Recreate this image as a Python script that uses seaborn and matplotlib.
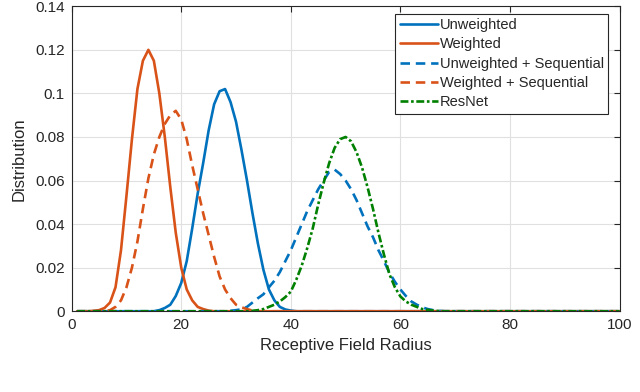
import matplotlib
matplotlib.use("Agg")
import matplotlib.pyplot as plt
import seaborn as sns
import numpy as np
import pandas as pd

# ---- data ----
x_radius = list(range(1, 101))

unweighted_start = 15
unweighted = [0.0, 0.0005, 0.0015, 0.003, 0.007, 0.013, 0.023, 0.038, 0.054, 0.068,
              0.083, 0.095, 0.101, 0.102, 0.096, 0.087, 0.074, 0.060, 0.045, 0.031,
              0.019, 0.010, 0.005, 0.002, 0.0008, 0.0003]

weighted_start = 4
weighted = [0.0002, 0.0005, 0.0015, 0.004, 0.011, 0.028, 0.053, 0.079, 0.102, 0.115,
            0.120, 0.115, 0.100, 0.080, 0.057, 0.036, 0.020, 0.010, 0.005, 0.002,
            0.001, 0.0003]

unweighted_seq_start = 29
unweighted_seq = [0.0002, 0.0005, 0.0009, 0.002, 0.004, 0.006, 0.0078, 0.011, 0.014, 0.018,
                  0.023, 0.028, 0.034, 0.040, 0.046, 0.051, 0.056, 0.060, 0.064, 0.065,
                  0.063, 0.060, 0.056, 0.051, 0.045, 0.039, 0.034, 0.028, 0.023, 0.0177,
                  0.0135, 0.010, 0.007, 0.0045, 0.003, 0.0018, 0.001, 0.0005, 0.0002]

weighted_seq_start = 7
weighted_seq = [0.0005, 0.002, 0.005, 0.011, 0.020, 0.032, 0.047, 0.061, 0.072, 0.080,
                0.086, 0.090, 0.092, 0.088, 0.079, 0.067, 0.056, 0.045, 0.035, 0.025,
                0.016, 0.010, 0.006, 0.003, 0.0018, 0.001, 0.0003]

resnet_start = 33
resnet = [0.0002, 0.0005, 0.001, 0.002, 0.003, 0.0045, 0.0065, 0.009, 0.0145, 0.021,
          0.029, 0.038, 0.049, 0.059, 0.068, 0.075, 0.079, 0.080, 0.078, 0.073,
          0.066, 0.057, 0.047, 0.036, 0.026, 0.017, 0.011, 0.0068, 0.0045, 0.003,
          0.002, 0.001, 0.0006, 0.0003, 0.0001]

series_names = ["Unweighted", "Weighted", "Unweighted + Sequential",
                "Weighted + Sequential", "ResNet"]
x_ticks = [0, 20, 40, 60, 80, 100]
y_ticks = [0, 0.02, 0.04, 0.06, 0.08, 0.1, 0.12, 0.14]
y_tick_labels = ["0", "0.02", "0.04", "0.06", "0.08", "0.1", "0.12", "0.14"]


def full_series(start, vals):
    arr = np.zeros(len(x_radius))
    i0 = x_radius.index(start)
    arr[i0:i0 + len(vals)] = vals
    return arr


raw = {
    "Unweighted": (unweighted_start, unweighted),
    "Weighted": (weighted_start, weighted),
    "Unweighted + Sequential": (unweighted_seq_start, unweighted_seq),
    "Weighted + Sequential": (weighted_seq_start, weighted_seq),
    "ResNet": (resnet_start, resnet),
}
frames = []
for name in series_names:
    s, v = raw[name]
    frames.append(pd.DataFrame({"x": x_radius, "y": full_series(s, v), "series": name}))
df = pd.concat(frames, ignore_index=True)

styles = {
    "Unweighted": dict(color="#0072BD", linestyle="-"),
    "Weighted": dict(color="#D95319", linestyle="-"),
    "Unweighted + Sequential": dict(color="#0072BD", linestyle=(0, (3.6, 2.2))),
    "Weighted + Sequential": dict(color="#D95319", linestyle=(0, (3.6, 2.2))),
    "ResNet": dict(color="#008000", linestyle=(0, (3.0, 1.0, 1.0, 1.0))),
}

sns.set_style("white")
plt.rcParams["font.family"] = ["Liberation Sans", "DejaVu Sans"]

fig = plt.figure(figsize=(6.4, 3.92), dpi=100)
ax = fig.add_axes([0.112, 0.206, 0.856, 0.778])

for name in series_names:
    sub = df[df["series"] == name]
    sns.lineplot(data=sub, x="x", y="y", ax=ax, label=name, linewidth=1.9,
                 **styles[name])

ax.set_xlim(0, 100)
ax.set_ylim(0, 0.14)
ax.set_xticks(x_ticks)
ax.set_yticks(y_ticks)
ax.set_yticklabels(y_tick_labels)
ax.grid(True, color="#e0e0e0", linewidth=0.8)
ax.set_axisbelow(True)
for sp in ax.spines.values():
    sp.set_color("#262626")
    sp.set_linewidth(0.8)
ax.tick_params(direction="in", length=4, width=0.8, colors="#262626",
               labelsize=11, top=True, right=True, pad=5)
ax.set_xlabel("Receptive Field Radius", fontsize=12, color="#262626", labelpad=4)
ax.set_ylabel("Distribution", fontsize=12, color="#262626", labelpad=6)

leg = ax.legend(loc="upper right", bbox_to_anchor=(0.985, 0.985), fontsize=10.5,
                frameon=True, fancybox=False, framealpha=1, edgecolor="#262626",
                handlelength=2.6, handletextpad=0.15, labelspacing=0.36,
                borderpad=0.3, borderaxespad=0.2)
leg.get_frame().set_linewidth(0.8)

fig.savefig("out.png", dpi=100)
